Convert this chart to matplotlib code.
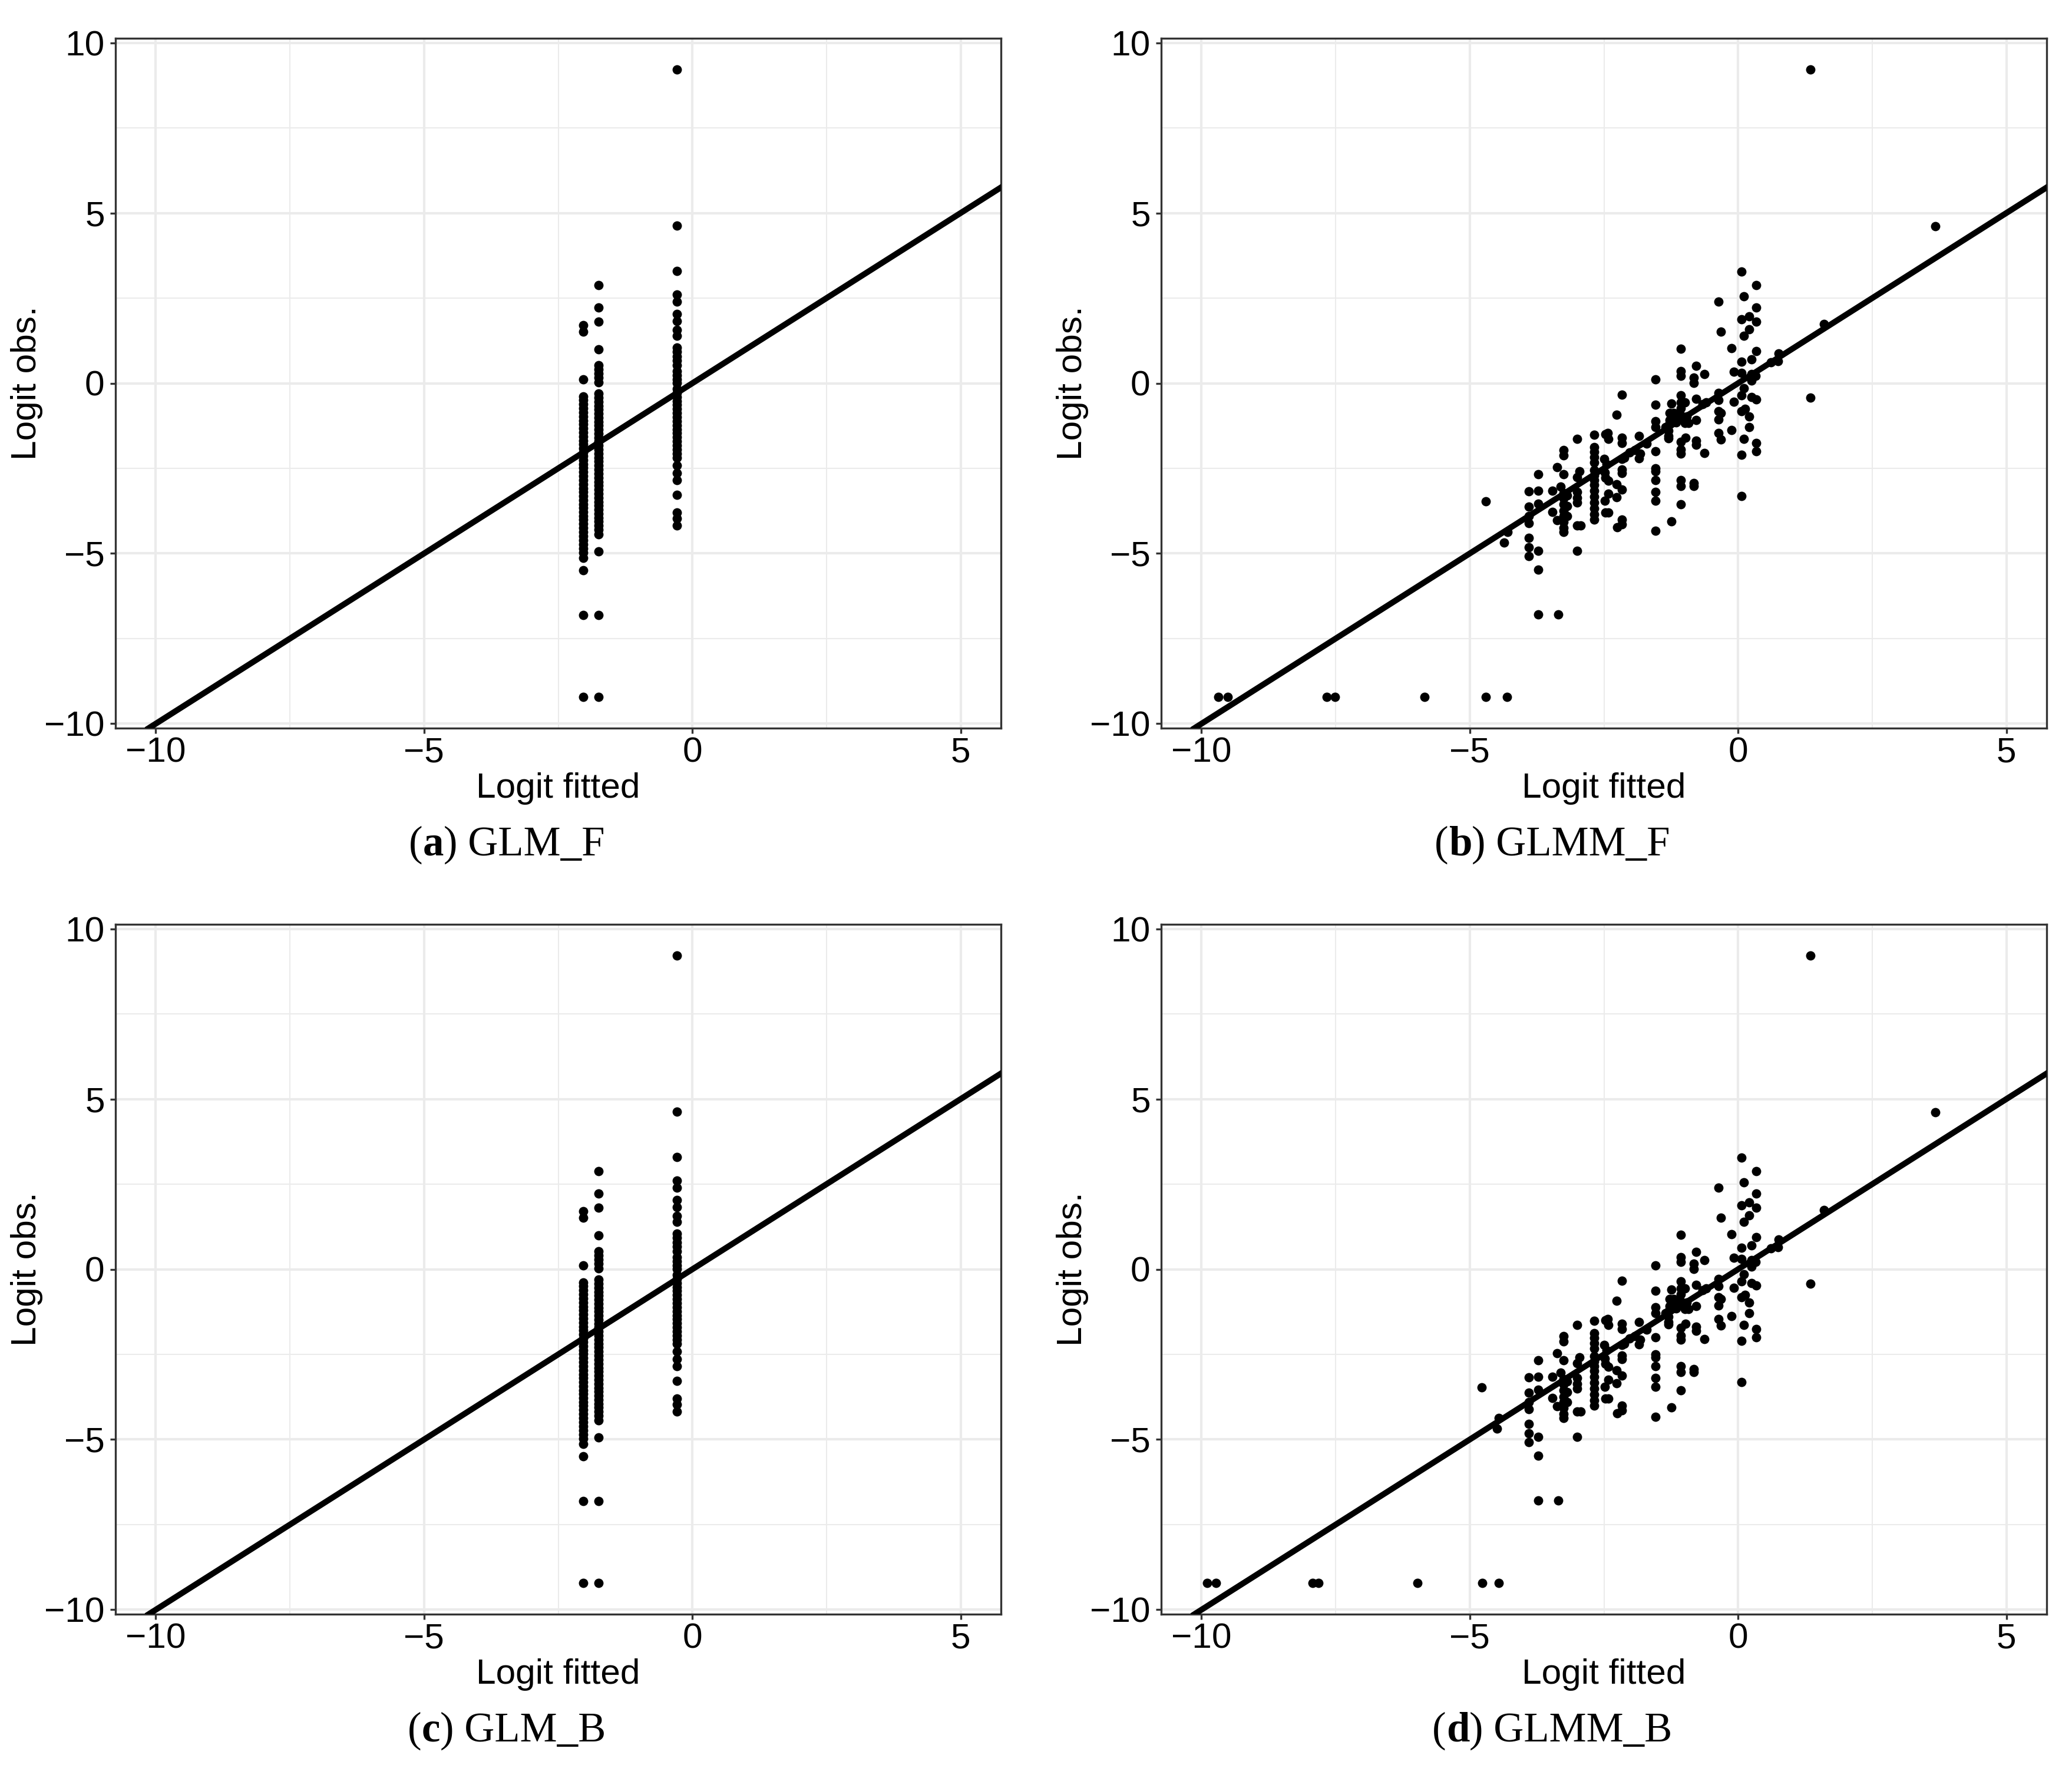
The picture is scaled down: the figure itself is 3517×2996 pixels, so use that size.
import numpy as np
import matplotlib
matplotlib.use("Agg")
import matplotlib.pyplot as plt

plt.rcParams['font.family'] = ['Liberation Sans', 'DejaVu Sans']

# ---------------------------------------------------------------
# GLM (panels a and c share the same picture): three fitted levels
# ---------------------------------------------------------------
glm_levels = [-2.03, -1.745, -0.285]
glm_obs_level1 = [1.71, 1.52, 0.12, -0.39, -0.50, -0.61, -0.73, -0.86, -0.97,
                  -1.09, -1.21, -1.32, -1.45, -1.56, -1.68, -1.79, -1.91, -2.03,
                  -2.14, -2.26, -2.38, -2.49, -2.61, -2.73, -2.84, -2.96, -3.08,
                  -3.19, -3.31, -3.43, -3.55, -3.66, -3.78, -3.90, -4.01, -4.13,
                  -4.25, -4.37, -4.49, -4.61, -4.73, -4.85, -4.98, -5.13, -5.49,
                  -6.80, -9.21]
glm_obs_level2 = [2.88, 2.22, 1.81, 0.99, 0.53, 0.41, 0.29, 0.16, 0.03, -0.30,
                  -0.42, -0.54, -0.66, -0.77, -0.89, -1.01, -1.13, -1.24, -1.36,
                  -1.48, -1.60, -1.71, -1.83, -1.95, -2.07, -2.18, -2.30, -2.42,
                  -2.54, -2.65, -2.77, -2.89, -3.01, -3.12, -3.24, -3.36, -3.48,
                  -3.59, -3.71, -3.83, -3.95, -4.06, -4.18, -4.30, -4.44, -4.94,
                  -6.80, -9.21]
glm_obs_level3 = [9.21, 4.63, 3.29, 2.61, 2.40, 2.03, 1.83, 1.57, 1.40, 1.05,
                  0.92, 0.79, 0.66, 0.53, 0.36, 0.24, 0.12, 0.01, -0.16, -0.28,
                  -0.40, -0.52, -0.64, -0.76, -0.88, -0.99, -1.11, -1.23, -1.35,
                  -1.47, -1.59, -1.70, -1.82, -1.94, -2.06, -2.18, -2.41, -2.64,
                  -2.84, -3.27, -3.79, -3.97, -4.17]

# ---------------------------------------------------------------
# GLMM: points common to GLMM_F and GLMM_B
# ---------------------------------------------------------------
glmm_fitted = [
    -3.90, -3.90, -3.90, -3.90, -3.90, -3.90, -3.90,
    -3.72, -3.72, -3.72, -3.72, -3.72, -3.72, -3.35,
    -3.46, -3.46, -3.37, -3.37, -3.31, -3.25, -3.25, -3.25,
    -3.25, -3.25, -3.25, -3.25, -3.25, -3.25, -3.25, -3.25,
    -3.19, -3.19, -3.19,
    -3.00, -2.96, -3.00, -3.00, -3.00, -3.00, -3.00, -2.93, -3.00,
    -2.68, -2.68, -2.68, -2.68, -2.68, -2.68, -2.68, -2.68,
    -2.68, -2.68, -2.68, -2.68, -2.68, -2.68, -2.68,
    -2.47, -2.43, -2.42, -2.50, -2.45, -2.48, -2.47, -2.42,
    -2.42, -2.48, -2.47, -2.42,
    -2.17, -2.26, -2.17, -2.17, -2.17, -2.17, -2.17, -2.26,
    -2.17, -2.26, -2.17, -2.17, -2.25, -2.12,
    -2.02, -1.92, -1.85, -1.70, -1.83, -1.85,
    -1.54, -1.54, -1.54, -1.54, -1.54, -1.54, -1.54, -1.54,
    -1.54, -1.54, -1.54,
    -1.24, -1.28, -1.20, -1.28, -1.30, -1.35, -1.30, -1.30,
    -1.30, -1.24, -1.15, -1.20,
    -1.07, -1.07, -1.07, -1.07, -1.07, -0.99, -1.07, -1.07,
    -1.01, -0.96, -0.99, -0.92, -1.07, -0.98, -1.07, -1.07,
    -1.07, -1.07, -1.07,
    -0.83, -0.83, -0.78, -0.78, -0.78, -0.78, -0.78, -0.83,
    -0.83, -0.63, -0.63, -0.59, -0.66,
    -0.37, -0.32, -0.37, -0.37, -0.37, -0.32, -0.37, -0.37,
    -0.32, -0.12, -0.12, -0.08, -0.08,
    0.06, 0.06, 0.06, 0.06, 0.06, 0.06, 0.06, 0.06,
    0.11, 0.11, 0.11, 0.11, 0.13,
    0.21, 0.21, 0.21, 0.21, 0.25, 0.25, 0.25, 0.25,
    0.34, 0.34, 0.34, 0.34, 0.33, 0.34, 0.34, 0.34,
    0.61, 0.74, 0.76, 1.35, 1.35, 1.60, 3.67,
]
glmm_obs = [
    -3.17, -3.62, -3.91, -4.11, -4.55, -4.81, -5.08,
    -2.67, -3.15, -3.53, -4.93, -5.48, -6.79, -6.79,
    -3.15, -3.78, -2.46, -4.02, -3.03, -1.96, -2.12, -2.67,
    -3.22, -3.39, -3.56, -3.74, -3.91, -4.08, -4.25, -4.37,
    -3.30, -3.60, -3.90,
    -1.64, -2.58, -2.76, -3.20, -3.36, -3.50, -4.17, -4.17, -4.93,
    -1.52, -1.87, -2.02, -2.17, -2.32, -2.55, -2.70, -2.84,
    -2.99, -3.16, -3.33, -3.51, -3.68, -3.85, -4.00,
    -1.50, -1.46, -1.63, -2.22, -2.38, -2.62, -2.78, -2.87,
    -3.25, -3.46, -3.79, -3.79,
    -0.33, -0.93, -1.60, -1.75, -2.23, -2.53, -2.64, -2.96,
    -3.13, -3.35, -4.00, -4.14, -4.23, -2.18,
    -2.03, -1.97, -1.55, -1.78, -2.06, -2.21,
    0.12, -0.63, -1.12, -1.29, -1.99, -2.50, -2.59, -2.84,
    -3.19, -3.45, -4.33,
    -0.59, -0.88, -0.87, -1.08, -1.24, -1.29, -1.40, -1.55,
    -1.62, -4.05, -1.15, -1.00,
    1.01, 0.36, 0.21, -0.36, -0.56, -0.56, -0.73, -0.94,
    -1.08, -0.97, -1.17, -1.17, -1.72, -1.60, -1.95, -2.06,
    -2.84, -3.02, -3.55,
    0.16, 0.01, 0.51, -0.46, -1.08, -1.69, -1.80, -2.93,
    -3.02, 0.27, -2.05, -0.56, -0.61,
    2.39, 1.51, -0.29, -0.50, -0.82, -0.87, -1.07, -1.46,
    -1.66, 1.03, -1.38, 0.34, -0.54,
    3.28, 1.87, 0.63, 0.31, -0.36, -0.82, -2.11, -3.32,
    2.55, 1.40, -0.15, -1.63, -0.76,
    1.97, 1.59, -0.97, -1.29, 0.70, 0.27, 0.07, -0.40,
    2.88, 2.22, 1.81, 0.95, 0.21, -0.48, -1.75, -1.99,
    0.62, 0.65, 0.88, 9.21, -0.43, 1.74, 4.61,
]

# points that differ between the two GLMM fits
glmm_f_extra_fitted = [-4.70, -4.36, -4.30, -9.69, -9.51, -7.66, -7.51, -5.84, -4.70, -4.31]
glmm_f_extra_obs = [-3.47, -4.68, -4.37, -9.21, -9.21, -9.21, -9.21, -9.21, -9.21, -9.21]
glmm_b_extra_fitted = [-4.78, -4.49, -4.46, -9.89, -9.73, -7.93, -7.82, -5.98, -4.77, -4.46]
glmm_b_extra_obs = [-3.47, -4.68, -4.37, -9.21, -9.21, -9.21, -9.21, -9.21, -9.21, -9.21]

captions = [('a', 'GLM_F'), ('b', 'GLMM_F'), ('c', 'GLM_B'), ('d', 'GLMM_B')]
x_breaks = [-10, -5, 0, 5]
y_breaks = [-10, -5, 0, 5, 10]

# ---------------------------------------------------------------
W, H = 3517, 2996
fig = plt.figure(figsize=(W / 300, H / 300), dpi=300)

grid_col = '#EBEBEB'
dark = '#333333'
fs = 14.5


def make_axes(left, top, right, bottom):
    return fig.add_axes([left / W, 1 - bottom / H, (right - left) / W, (bottom - top) / H])


def draw_panel(ax, fitted, observed):
    ax.set_xlim(-10.75, 5.75)
    ax.set_ylim(-10.13, 10.13)
    ax.set_xticks(x_breaks)
    ax.set_yticks(y_breaks)
    ax.set_xticks([-7.5, -2.5, 2.5], minor=True)
    ax.set_yticks([-7.5, -2.5, 2.5, 7.5], minor=True)
    ax.grid(True, which='major', color=grid_col, lw=1.0, zorder=0)
    ax.grid(True, which='minor', color=grid_col, lw=0.5, zorder=0)
    ax.set_axisbelow(True)
    ax.tick_params(which='minor', length=0)
    ax.tick_params(axis='both', which='major', length=2.2, width=0.8, color=dark,
                   labelsize=fs, labelcolor='black')
    ax.tick_params(axis='x', pad=1.2)
    ax.tick_params(axis='y', pad=2.2)
    for sp in ax.spines.values():
        sp.set_color(dark)
        sp.set_linewidth(0.8)
    ax.scatter(fitted, observed, s=14.5, c='black', linewidths=0, zorder=3)
    ax.axline((0, 0), slope=1, color='black', lw=2.4, zorder=4)
    ax.set_xlabel('Logit fitted', fontsize=fs)
    ax.set_ylabel('Logit obs.', fontsize=fs)
    ax.xaxis.set_label_coords(0.5, -0.064)
    ax.yaxis.set_label_coords(-0.082, 0.5)


glm_fit = np.concatenate([np.full(len(glm_obs_level1), glm_levels[0]),
                          np.full(len(glm_obs_level2), glm_levels[1]),
                          np.full(len(glm_obs_level3), glm_levels[2])])
glm_obs = np.concatenate([glm_obs_level1, glm_obs_level2, glm_obs_level3])

glmm_f_fit = np.concatenate([glmm_fitted, glmm_f_extra_fitted])
glmm_f_obs = np.concatenate([glmm_obs, glmm_f_extra_obs])
glmm_b_fit = np.concatenate([glmm_fitted, glmm_b_extra_fitted])
glmm_b_obs = np.concatenate([glmm_obs, glmm_b_extra_obs])

cols = [(196, 1699), (1971, 3474)]
rows = [(65, 1236), (1569, 2740)]
panel_data = [(glm_fit, glm_obs), (glmm_f_fit, glmm_f_obs),
              (glm_fit, glm_obs), (glmm_b_fit, glmm_b_obs)]

for i, (fx, oy) in enumerate(panel_data):
    r, c = divmod(i, 2)
    ax = make_axes(cols[c][0], rows[r][0], cols[c][1], rows[r][1])
    draw_panel(ax, fx, oy)

# captions: "(a) GLM_F" with the letter in bold
renderer = fig.canvas.get_renderer()
cap_cx = [860, 2635]
cap_base = [1452, 2956]


def caption(cx, base, letter, name):
    pieces = [('(', 'normal'), (letter, 'bold'), (') ' + name, 'normal')]
    texts = [fig.text(0, 1 - base / H, s, fontsize=17, fontweight=w,
                      family=['Liberation Serif', 'DejaVu Serif'],
                      va='baseline', ha='left') for s, w in pieces]
    widths = [t.get_window_extent(renderer).width for t in texts]
    x = cx - sum(widths) / 2
    for t, w in zip(texts, widths):
        t.set_x(x / W)
        x += w


for i, (letter, name) in enumerate(captions):
    r, c = divmod(i, 2)
    caption(cap_cx[c], cap_base[r], letter, name)

fig.savefig('out.png', dpi=300)
